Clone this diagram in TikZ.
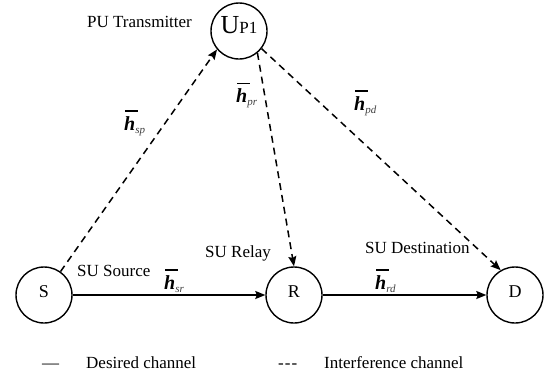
\documentclass[tikz,border=0pt]{standalone}
\usepackage{fontspec}
\setmainfont{Liberation Serif}
\usetikzlibrary{arrows.meta}
\newcommand{\hlab}[1]{\mbox{\rlap{\hspace{1pt}\rule[18.5pt]{12.5pt}{1.5pt}}{\fontsize{20}{20}\selectfont\textbf{\textit{h}}}\raisebox{-3pt}{\fontsize{11}{11}\selectfont\itshape\color{black!75}#1}}}
\begin{document}
\begin{tikzpicture}[x=1pt,y=-1pt,
  nodecirc/.style={draw, circle, line width=1.4pt, minimum size=56pt, inner sep=0pt,
    font=\fontsize{18}{18}\selectfont, text height=12pt, text depth=7pt},
  dasharr/.style={line width=1.5pt, dash pattern=on 7pt off 5pt,
    -{Stealth[length=10pt,width=8pt,inset=1.5pt]}},
  solarr/.style={line width=1.5pt, -{Stealth[length=10pt,width=8pt,inset=1.5pt]}},
  lab/.style={anchor=base west, inner sep=0pt, font=\fontsize{17}{17}\selectfont},
  hl/.style={anchor=base west, inner sep=0pt}]
\useasboundingbox (0,0) rectangle (547,376);
% nodes
\node[nodecirc] (S) at (44,295) {S};
\node[nodecirc] (R) at (294,295) {R};
\node[nodecirc] (D) at (515,295) {D};
\node[nodecirc, text height=17pt, text depth=13pt] (U) at (239,31)
  {{\fontsize{26}{26}\selectfont U}{\fontsize{17}{17}\selectfont P1}};
% connectors
\draw[solarr] (S) -- (R);
\draw[solarr] (R) -- (D);
\draw[dasharr] (S) -- (U.220);
\draw[dasharr] (U.-50) -- (R.north);
\draw[dasharr] (U.-38) -- (D.120);
% texts
\node[lab] (tpu) at (87,27.7) {PU Transmitter};
\node[lab] (tsrc) at (77,276) {SU Source};
\node[lab] (trel) at (205,257) {SU Relay};
\node[lab] (tdst) at (365,253) {SU Destination};
% channel labels
\node[hl] (hsp) at (124,130) {\hlab{sp}};
\node[hl] (hpr) at (236,102.7) {\hlab{pr}};
\node[hl] (hpd) at (354,110) {\hlab{pd}};
\node[hl] (hsr) at (164,289) {\hlab{sr}};
\node[hl] (hrd) at (375,289) {\hlab{rd}};
% legend
\node[lab] (lsol) at (42,368) {—};
\node[lab] (ldes) at (86,368) {Desired channel};
\node[lab] (ldas) at (278,368) {\mbox{-}\hspace{1pt}\mbox{-}\hspace{1pt}\mbox{-}};
\node[lab] (lint) at (324,368) {Interference channel};
\end{tikzpicture}
\end{document}
